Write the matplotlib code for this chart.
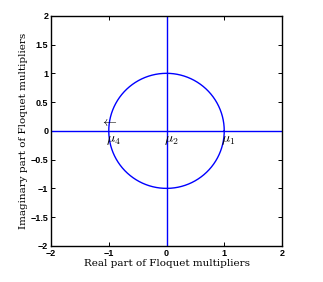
import numpy as np
import matplotlib
matplotlib.use('Agg')
import matplotlib.pyplot as plt

# Floquet multipliers on the unit circle
mult_re = [1.0, 0.0, -1.0]
mult_im = [0.0, 0.0, 0.0]
mult_names = [r'$\mu_1$', r'$\mu_2$', r'$\mu_4$']

theta = np.linspace(0, 2 * np.pi, 400)
circle_re = np.cos(theta)
circle_im = np.sin(theta)

xticks = [-2, -1, 0, 1, 2]
yticks = [-2, -1.5, -1, -0.5, 0, 0.5, 1, 1.5, 2]

plt.rcParams['mathtext.fontset'] = 'cm'

fig = plt.figure(figsize=(3.23, 2.82), dpi=100)
ax = fig.add_axes([0.158, 0.128, 0.715, 0.816])

ax.plot(circle_re, circle_im, color='blue', lw=1.0)
ax.axhline(0, color='blue', lw=1.0)
ax.axvline(0, color='blue', lw=1.0)

for x, y, name in zip(mult_re, mult_im, mult_names):
    ax.text(x - 0.05, y - 0.03, name, fontsize=10, ha='left', va='top')

# arrow showing direction of mu_4
ax.text(-1.0, 0.15, r'$\leftarrow$', fontsize=10, ha='center', va='center')


def fmt(v):
    s = ('%g' % v)
    return s.replace('-', '\u2212')


ax.set_xlim(-2, 2)
ax.set_ylim(-2, 2)
ax.set_xticks(xticks)
ax.set_yticks(yticks)
ax.set_xticklabels([fmt(t) for t in xticks], family='Liberation Sans', weight='bold')
ax.set_yticklabels([fmt(t) for t in yticks], family='Liberation Sans', weight='bold')
ax.tick_params(direction='in', labelsize=6.5, length=3, width=0.7, top=True, right=True, pad=2)
for s in ax.spines.values():
    s.set_linewidth(1.0)

ax.set_xlabel('Real part of Floquet multipliers', family='DejaVu Serif', fontsize=7.5, labelpad=1)
ax.set_ylabel('Imaginary part of Floquet multipliers', family='DejaVu Serif', fontsize=7.5, labelpad=2)

fig.savefig('out.png', dpi=100)
